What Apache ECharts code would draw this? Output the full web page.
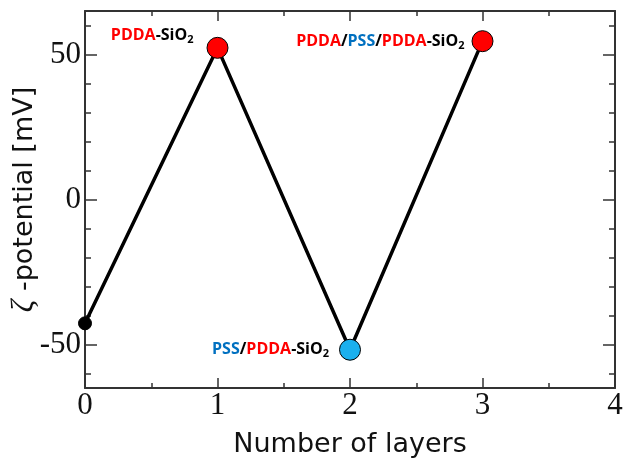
<!DOCTYPE html>
<html><head><meta charset="utf-8">
<script src="https://cdn.jsdelivr.net/npm/echarts@6/dist/echarts.min.js"></script>
<style>html,body{margin:0;padding:0;background:#fff}#c{width:631px;height:463px}</style>
</head><body><div id="c"></div>
<script>
const layers = [0, 1, 2, 3];
const zeta = [-42.7, 52.3, -51.8, 54.6];
const yMajorTicks = [-50, 0, 50];
const yMinorTicks = [-60, -40, -30, -20, -10, 10, 20, 30, 40, 60];
const pointLabels = [
  null,
  '{r|PDDA}{k|-SiO}{s|2}',
  '{b|PSS}{k|/}{r|PDDA}{k|-SiO}{s|2}',
  '{r|PDDA}{k|/}{b|PSS}{k|/}{r|PDDA}{k|-SiO}{s|2}'
];
const markerColors = ['#000000', '#ff0000', '#1ab0ee', '#ff0000'];

const F = 'Open Sans';
const FS = 16;
const rich = {
  r: {color: '#ff0000', fontFamily: F, fontWeight: 'bold', fontSize: FS},
  b: {color: '#0070c0', fontFamily: F, fontWeight: 'bold', fontSize: FS},
  k: {color: '#000000', fontFamily: F, fontWeight: 'bold', fontSize: FS},
  s: {color: '#000000', fontFamily: F, fontWeight: 'bold', fontSize: 11, padding: [9, 0, 0, 0]}
};
const labelPos = [
  null,
  {position: 'left', distance: 13, offset: [0, -12]},
  {position: 'left', distance: 10, offset: [0, 0]},
  {position: 'left', distance: 7, offset: [0, 0]}
];

const data = layers.map((x, i) => {
  const d = {
    value: [x, zeta[i]],
    symbolSize: i === 0 ? 13 : 21,
    itemStyle: {color: markerColors[i], borderColor: '#000', borderWidth: 1}
  };
  if (pointLabels[i]) {
    d.label = Object.assign({show: true, formatter: pointLabels[i], rich: rich}, labelPos[i]);
  }
  return d;
});

const axisLine = {show: true, onZero: false, lineStyle: {color: '#333', width: 2}};
const noLine = {show: false, onZero: false};
const tickStyle = {color: '#333', width: 1.5};
const yBase = {type: 'value', min: -65, max: 65, splitLine: {show: false}};

const chart = echarts.init(document.getElementById('c'));
chart.setOption({
  animation: false,
  grid: {left: 85, right: 16, top: 11, bottom: 75, containLabel: false, outerBoundsMode: 'none'},
  xAxis: [
    {type: 'value', min: 0, max: 4, interval: 1, position: 'bottom',
     axisLine: axisLine, splitLine: {show: false},
     axisTick: {show: true, inside: true, length: 10, lineStyle: tickStyle},
     minorTick: {show: true, splitNumber: 2, length: 5, lineStyle: tickStyle},
     axisLabel: {fontFamily: 'Liberation Serif', fontSize: 31, color: '#111', margin: 2},
     name: 'Number of layers', nameLocation: 'middle', nameGap: 43, nameMoveOverlap: false,
     nameTextStyle: {fontFamily: 'DejaVu Sans', fontSize: 27, color: '#111'}},
    {type: 'value', min: 0, max: 4, interval: 1, position: 'top',
     axisLine: axisLine, splitLine: {show: false},
     axisTick: {show: true, inside: true, length: 10, lineStyle: tickStyle},
     minorTick: {show: true, splitNumber: 2, length: 5, lineStyle: tickStyle},
     axisLabel: {show: false}}
  ],
  yAxis: [
    Object.assign({}, yBase, {position: 'left', axisLine: axisLine,
     axisTick: {show: true, inside: true, length: 12, customValues: yMajorTicks, lineStyle: tickStyle},
     axisLabel: {customValues: yMajorTicks, fontFamily: 'Liberation Serif', fontSize: 31, color: '#111', margin: 4},
     name: '{z|ζ} -potential [mV]', nameLocation: 'middle', nameGap: 45, nameRotate: 90, nameMoveOverlap: false,
     nameTextStyle: {fontFamily: 'DejaVu Sans', fontSize: 27, color: '#111',
       rich: {z: {fontFamily: 'Liberation Serif', fontStyle: 'italic', fontSize: 31, color: '#111'}}}}),
    Object.assign({}, yBase, {position: 'left', axisLine: noLine,
     axisTick: {show: true, inside: true, length: 6, customValues: yMinorTicks, lineStyle: tickStyle},
     axisLabel: {show: false}}),
    Object.assign({}, yBase, {position: 'right', axisLine: axisLine,
     axisTick: {show: true, inside: true, length: 12, customValues: yMajorTicks, lineStyle: tickStyle},
     axisLabel: {show: false}}),
    Object.assign({}, yBase, {position: 'right', axisLine: noLine,
     axisTick: {show: true, inside: true, length: 6, customValues: yMinorTicks, lineStyle: tickStyle},
     axisLabel: {show: false}})
  ],
  series: [{
    type: 'line', xAxisIndex: 0, yAxisIndex: 0,
    data: data, symbol: 'circle',
    lineStyle: {color: '#000', width: 3.5},
    z: 5
  }]
});
</script></body></html>
